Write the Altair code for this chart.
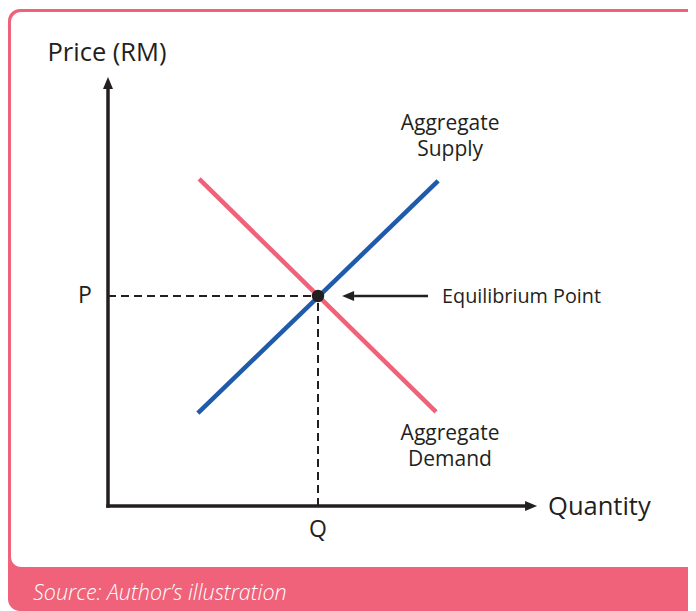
import altair as alt
import pandas as pd

# ---------------- data (economic units: quantity / price) ----------------
demand_quantity = [2.17, 7.81]
demand_price = [7.79, 2.24]
supply_quantity = [2.14, 7.86]
supply_price = [2.21, 7.74]
equilibrium_quantity = [5.0]
equilibrium_price = [5.0]
axis_extent = 9.93          # where the axis arrows' heads begin
pointer_from = 7.62         # tail of the "Equilibrium Point" pointer
pointer_to = 5.86           # base of the pointer's arrow head

curve_names = ["Aggregate Demand", "Aggregate Supply"]

# ---------------- style ----------------
W, H = 680, 603
PINK = "#F0627A"
BLUE = "#1F5BAA"
INK = "#231F20"
FONT = "Open Sans"

xs = alt.Scale(domain=[-100 / 42, (W - 100) / 42], nice=False, zero=False)
ys = alt.Scale(domain=[(498 - H) / 42, 498 / 42], nice=False, zero=False)


def X(f):
    return alt.X(f, type="quantitative", scale=xs, axis=None)


def Y(f):
    return alt.Y(f, type="quantitative", scale=ys, axis=None)


one = pd.DataFrame({"k": [0]})

# frame
outer = alt.Chart(one).mark_rect(fill=PINK, cornerRadius=12).encode(
    x=alt.value(0), x2=alt.value(W + 30), y=alt.value(1), y2=alt.value(H)
)
inner = alt.Chart(one).mark_rect(fill="white", cornerRadius=10).encode(
    x=alt.value(3), x2=alt.value(W + 30), y=alt.value(4), y2=alt.value(559)
)
source = alt.Chart(one).mark_text(
    text="Source: Author’s illustration", font=FONT, fontSize=21.5,
    fontStyle="italic", fontWeight=300, color="white", align="left",
    baseline="middle"
).encode(x=alt.value(25), y=alt.value(586))

# curves
curves = pd.DataFrame({
    "q": demand_quantity + supply_quantity,
    "p": demand_price + supply_price,
    "curve": [curve_names[0]] * 2 + [curve_names[1]] * 2,
})
lines = alt.Chart(curves).mark_line(strokeWidth=4.5, strokeCap="butt").encode(
    x=X("q"), y=Y("p"),
    color=alt.Color("curve:N", scale=alt.Scale(domain=curve_names, range=[PINK, BLUE]), legend=None),
)

# dashed guides to P and Q
guides_df = pd.DataFrame({
    "x1": [0.0, equilibrium_quantity[0]],
    "y1": [equilibrium_price[0], 0.0],
    "x2": [equilibrium_quantity[0], equilibrium_quantity[0]],
    "y2": [equilibrium_price[0], equilibrium_price[0]],
})
guides = alt.Chart(guides_df).mark_rule(strokeDash=[8, 5], strokeWidth=2, color=INK).encode(
    x=X("x1"), y=Y("y1"), x2="x2", y2="y2"
)

# axes
axes_df = pd.DataFrame({
    "x1": [0.0, 0.0], "y1": [0.0, 0.0],
    "x2": [axis_extent, 0.0], "y2": [0.0, axis_extent],
})
axes = alt.Chart(axes_df).mark_rule(strokeWidth=3.5, strokeCap="square", color=INK).encode(
    x=X("x1"), y=Y("y1"), x2="x2", y2="y2"
)
up_head = alt.Chart(pd.DataFrame({"q": [0.0], "p": [axis_extent]})).mark_point(
    shape="M0,-12L-5,0L5,0Z", size=4, filled=True, color=INK, opacity=1, strokeWidth=0
).encode(x=X("q"), y=Y("p"))
right_head = alt.Chart(pd.DataFrame({"q": [axis_extent], "p": [0.0]})).mark_point(
    shape="M12,0L0,-5L0,5Z", size=4, filled=True, color=INK, opacity=1, strokeWidth=0
).encode(x=X("q"), y=Y("p"))

# pointer
pointer_df = pd.DataFrame({"x1": [pointer_from], "x2": [pointer_to], "p": equilibrium_price})
pointer = alt.Chart(pointer_df).mark_rule(strokeWidth=2.5, color=INK).encode(
    x=X("x1"), x2="x2", y=Y("p")
)
pointer_head = alt.Chart(pd.DataFrame({"q": [pointer_to], "p": equilibrium_price})).mark_point(
    shape="M-12,0L0,-5L0,5Z", size=4, filled=True, color=INK, opacity=1, strokeWidth=0
).encode(x=X("q"), y=Y("p"))

eq_point = alt.Chart(pd.DataFrame({"q": equilibrium_quantity, "p": equilibrium_price})).mark_circle(
    size=154, color=INK, opacity=1
).encode(x=X("q"), y=Y("p"))


def label(q, p, text, size, align="center", dx=0, dy=0, baseline="middle"):
    df = pd.DataFrame({"q": [q], "p": [p], "t": [text]})
    return alt.Chart(df).mark_text(
        font=FONT, fontSize=size, color=INK, align=align, baseline=baseline,
        dx=dx, dy=dy, lineBreak="\n", lineHeight=26
    ).encode(x=X("q"), y=Y("p"), text="t:N")


labels = [
    label(0.0, axis_extent, "Price (RM)", 25.5, dx=-1, dy=-36),
    label(axis_extent, 0.0, "Quantity", 25.5, align="left", dx=23, dy=1),
    label(0.0, equilibrium_price[0], "P", 23, dx=-23),
    label(equilibrium_quantity[0], 0.0, "Q", 23, dy=24),
    label(pointer_from, equilibrium_price[0], "Equilibrium Point", 19.8, align="left", dx=14, dy=1),
    label(supply_quantity[1], supply_price[1], "Aggregate\nSupply", 21, dx=12, dy=-57, baseline="middle"),
    label(demand_quantity[1], demand_price[1], "Aggregate\nDemand", 21, dx=14, dy=22, baseline="middle"),
]

chart = alt.layer(
    outer, inner, source, guides, lines, axes, up_head, right_head,
    pointer, pointer_head, eq_point, *labels
).properties(
    width=W, height=H, padding=0, background="white",
    autosize=alt.AutoSizeParams(type="none"),
).configure_view(stroke=None)

chart.save("out.html", embed_options={"renderer": "svg", "actions": False})
